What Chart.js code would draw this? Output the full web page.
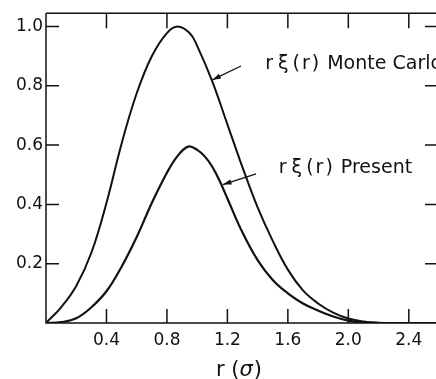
<!DOCTYPE html>
<html>
<head>
<meta charset="utf-8">
<script src="https://cdn.jsdelivr.net/npm/chart.js@4"></script>
<style>
  html, body { margin: 0; padding: 0; background: #fff; }
  #wrap { width: 436px; height: 379px; }
</style>
</head>
<body>
<div id="wrap"><canvas id="chart" width="436" height="379"></canvas></div>
<script>
// r in units of sigma
const mcR = [0, 0.1, 0.2, 0.3, 0.4, 0.5, 0.6, 0.7, 0.8, 0.87, 0.95, 1.0, 1.1, 1.2, 1.3, 1.4, 1.5, 1.6, 1.7, 1.8, 1.9, 2.0, 2.1, 2.2, 2.3, 2.58];
const mcXi = [0, 0.053, 0.125, 0.237, 0.405, 0.605, 0.775, 0.9, 0.978, 1.0, 0.978, 0.935, 0.815, 0.67, 0.525, 0.39, 0.277, 0.18, 0.11, 0.066, 0.035, 0.015, 0.005, 0.001, 0, 0];

const presR = [0, 0.1, 0.2, 0.3, 0.4, 0.5, 0.6, 0.7, 0.8, 0.87, 0.94, 1.0, 1.05, 1.1, 1.15, 1.2, 1.3, 1.4, 1.5, 1.6, 1.7, 1.8, 1.9, 2.0, 2.1, 2.2, 2.58];
const presXi = [0, 0.003, 0.016, 0.053, 0.107, 0.19, 0.29, 0.405, 0.507, 0.563, 0.595, 0.584, 0.562, 0.527, 0.478, 0.42, 0.305, 0.212, 0.145, 0.1, 0.066, 0.042, 0.022, 0.008, 0.002, 0, 0];

const xTicks = [0.4, 0.8, 1.2, 1.6, 2.0, 2.4];
const yTicks = [0.2, 0.4, 0.6, 0.8, 1.0];

// labels with arrows: series name, text anchor (r, y), arrow tail, arrow tip
const labelName = ['Monte Carlo', 'Present'];
const labelAt = [[1.45, 0.873], [1.54, 0.523]];
const arrowFrom = [[1.29, 0.867], [1.39, 0.503]];
const arrowTo = [[1.10, 0.82], [1.17, 0.467]];

const FONT = '"DejaVu Sans", sans-serif';

function toPts(xs, ys) {
    return xs.map((x, i) => ({ x: x, y: ys[i] }));
}

// draws "r ξ (r) Name" with the wider spacing of the original
function drawLabel(ctx, name, x, y) {
    const parts = [['r', 5], ['\u03BE', 4], ['(', 2], ['r', 2], [')', 8], [name, 0]];
    parts.forEach(p => {
        ctx.fillText(p[0], x, y);
        x += ctx.measureText(p[0]).width + p[1];
    });
}

const frame = {
    id: 'frame',
    afterDraw(chart) {
        const ctx = chart.ctx;
        const a = chart.chartArea;
        const sx = chart.scales.x, sy = chart.scales.y;
        ctx.save();
        ctx.strokeStyle = '#111';
        ctx.lineWidth = 1.5;
        ctx.beginPath();
        ctx.moveTo(a.left, a.top); ctx.lineTo(a.left, a.bottom); ctx.lineTo(a.right, a.bottom);
        ctx.moveTo(a.left, a.top); ctx.lineTo(a.right, a.top);
        // inward ticks
        xTicks.forEach(v => {
            const px = sx.getPixelForValue(v);
            ctx.moveTo(px, a.bottom); ctx.lineTo(px, a.bottom - 14);
            ctx.moveTo(px, a.top); ctx.lineTo(px, a.top + 15);
        });
        yTicks.forEach(v => {
            const py = sy.getPixelForValue(v);
            ctx.moveTo(a.left, py); ctx.lineTo(a.left + 13, py);
            ctx.moveTo(a.right, py); ctx.lineTo(a.right - 11, py);
        });
        ctx.stroke();

        // annotations
        ctx.fillStyle = '#111';
        ctx.font = '19px ' + FONT;
        ctx.textBaseline = 'middle';
        ctx.textAlign = 'left';
        labelName.forEach((t, i) => {
            drawLabel(ctx, t, sx.getPixelForValue(labelAt[i][0]), sy.getPixelForValue(labelAt[i][1]));
            const x0 = sx.getPixelForValue(arrowFrom[i][0]), y0 = sy.getPixelForValue(arrowFrom[i][1]);
            const x1 = sx.getPixelForValue(arrowTo[i][0]), y1 = sy.getPixelForValue(arrowTo[i][1]);
            const ang = Math.atan2(y1 - y0, x1 - x0);
            ctx.lineWidth = 1.3;
            ctx.beginPath();
            ctx.moveTo(x0, y0); ctx.lineTo(x1, y1);
            ctx.stroke();
            ctx.beginPath();
            ctx.moveTo(x1, y1);
            ctx.lineTo(x1 - 9 * Math.cos(ang - 0.3), y1 - 9 * Math.sin(ang - 0.3));
            ctx.lineTo(x1 - 9 * Math.cos(ang + 0.3), y1 - 9 * Math.sin(ang + 0.3));
            ctx.closePath();
            ctx.fill();
        });

        // axis title r(σ)
        ctx.font = '21px ' + FONT;
        ctx.textBaseline = 'alphabetic';
        let tx = 216, ty = 376;
        ctx.fillText('r (', tx, ty);
        tx += ctx.measureText('r (').width;
        ctx.font = 'italic 21px ' + FONT;
        ctx.fillText('\u03C3', tx, ty);
        tx += ctx.measureText('\u03C3').width + 1;
        ctx.font = '21px ' + FONT;
        ctx.fillText(')', tx, ty);
        ctx.restore();
    }
};

new Chart(document.getElementById('chart'), {
    type: 'line',
    data: {
        datasets: [
            { label: 'Monte Carlo', data: toPts(mcR, mcXi), borderColor: '#111', borderWidth: 2, pointRadius: 0, tension: 0.4, fill: false },
            { label: 'Present', data: toPts(presR, presXi), borderColor: '#111', borderWidth: 2.2, pointRadius: 0, tension: 0.4, fill: false }
        ]
    },
    options: {
        responsive: false,
        animation: false,
        layout: { padding: { top: 9.5, right: 0, left: 0, bottom: 0 } },
        plugins: { legend: { display: false }, tooltip: { enabled: false } },
        scales: {
            x: {
                type: 'linear', min: 0, max: 2.58,
                grid: { display: false, drawTicks: false },
                border: { display: false },
                afterBuildTicks: s => { s.ticks = xTicks.map(v => ({ value: v })); },
                afterFit: s => { s.height = 56; },
                ticks: { color: '#111', font: { family: FONT, size: 17 }, padding: 7, maxRotation: 0, callback: v => v.toFixed(1) }
            },
            y: {
                type: 'linear', min: 0, max: 1.045,
                grid: { display: false, drawTicks: false },
                border: { display: false },
                afterBuildTicks: s => { s.ticks = yTicks.map(v => ({ value: v })); },
                afterFit: s => { s.width = 46; },
                ticks: { color: '#111', font: { family: FONT, size: 17 }, padding: 3, callback: v => v.toFixed(1) }
            }
        }
    },
    plugins: [frame]
});
</script>
</body>
</html>
